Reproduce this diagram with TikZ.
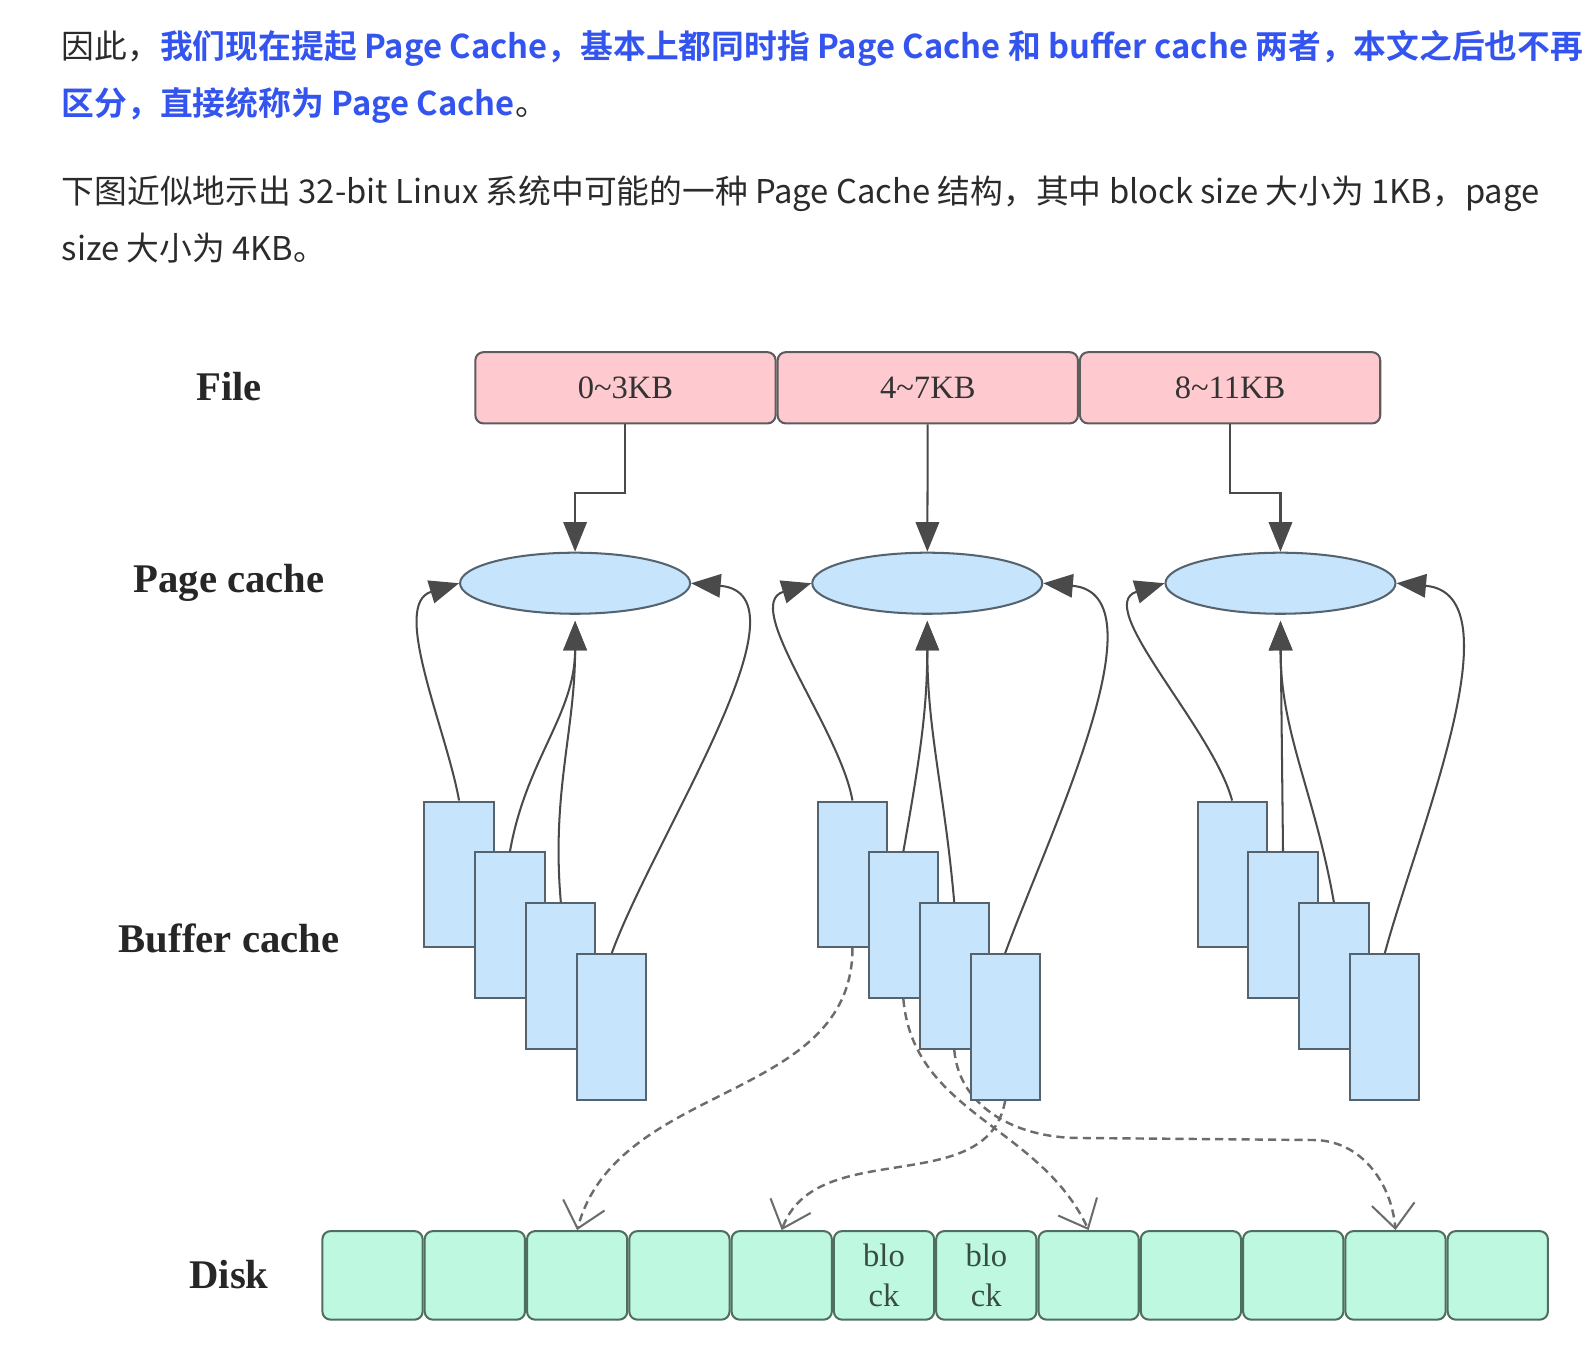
\documentclass[tikz,border=0pt]{standalone}
\usepackage{fontspec}
\usepackage{xcolor}
\usetikzlibrary{positioning,arrows.meta,shapes.geometric,backgrounds}
\newfontfamily\cjk{Noto Sans CJK SC}[BoldFont={Noto Sans CJK SC Bold}]
\newfontfamily\tnr{Liberation Serif}
\definecolor{linkblue}{HTML}{3454F0}
\definecolor{bodytext}{HTML}{2B2B2B}
\definecolor{filepink}{HTML}{FFCACF}
\definecolor{cacheblue}{HTML}{C6E4FC}
\definecolor{cacheline}{HTML}{55636F}
\definecolor{diskgreen}{HTML}{BEF8E1}
\definecolor{diskline}{HTML}{4F6E61}
\definecolor{edgegray}{HTML}{4A4A4A}
\tikzstyle{para}=[
        inner sep = 0pt,
        text = bodytext,
        font = \cjk\fontsize{16.1}{18}\selectfont
    ]
\tikzstyle{layer label}=[
        text = black!85,
        font = \tnr\bfseries\fontsize{20}{22}\selectfont
    ]
\tikzstyle{file state}=[
        draw = edgegray!90,
        line width = 1pt,
        fill = filepink,
        rounded corners = 4pt,
        minimum width = 147.5pt,
        minimum height = 35pt,
        text = black!80,
        font = \tnr\fontsize{16}{18}\selectfont
    ]
\tikzstyle{page state}=[
        ellipse,
        draw = cacheline,
        line width = 1pt,
        fill = cacheblue,
        inner sep = 0pt,
        minimum width = 113pt,
        minimum height = 30pt
    ]
\tikzstyle{buffer state}=[
        draw = cacheline,
        line width = 1pt,
        fill = cacheblue,
        minimum width = 34pt,
        minimum height = 71.5pt
    ]
\tikzstyle{disk state}=[
        draw = diskline,
        line width = 1pt,
        fill = diskgreen,
        rounded corners = 4pt,
        minimum width = 49.25pt,
        minimum height = 43.5pt,
        align = center,
        text = diskline!70!black,
        font = \tnr\fontsize{16}{20}\selectfont
    ]

\begin{document}
\begin{tikzpicture}[x=0.5pt, y=-0.5pt, thick,
        link/.style = {draw = edgegray, line width = 1pt, -{Triangle[length=14.5pt, width=11.5pt]}},
        flush/.style = {draw = gray!85!black, line width = 1.2pt, dash pattern = on 4pt off 2.5pt,
            -{Straight Barb[length=12pt, width=21pt, line width=1pt]}}]
        \useasboundingbox (0,0) rectangle (1568,1336);

        % text above the figure
        \node[para, anchor = base west] (t1) at (60,57) {因此，{\color{linkblue}\bfseries 我们现在提起 Page Cache，基本上都同时指 Page Cache 和 buffer cache 两者，本文之后也不再}};
        \node[para, anchor = base west] (t2) at (60,113) {{\color{linkblue}\bfseries 区分，直接统称为 Page Cache}。};
        \node[para, anchor = base west] (t3) at (60,200) {下图近似地示出 32-bit Linux 系统中可能的一种 Page Cache 结构，其中 block size 大小为 1KB，page};
        \node[para, anchor = base west] (t4) at (60,256) {size 大小为 4KB。};

        \node[layer label] (lfile) at (225,380) {File};
        \node[layer label] (lpage) at (225,573) {Page cache};
        \node[layer label] (lbuf) at (225,922) {Buffer cache};
        \node[layer label] (ldisk) at (225,1252) {Disk};

        \node[file state] (f1) at (614.5,381) {0\textasciitilde 3KB};
        \node[file state] (f2) [right = 0pt of f1] {4\textasciitilde 7KB};
        \node[file state] (f3) [right = 0pt of f2] {8\textasciitilde 11KB};

        \node[page state] (p1) at (565,573) {};
        \node[page state] (p2) at (911,573) {};
        \node[page state] (p3) at (1258,573) {};

        \node[buffer state] (b11) at (451,859) {};
        \node[buffer state] (b12) at ([shift={(50,50)}]b11) {};
        \node[buffer state] (b13) at ([shift={(50,50)}]b12) {};
        \node[buffer state] (b14) at ([shift={(50,50)}]b13) {};
        \node[buffer state] (b21) at (837.5,859) {};
        \node[buffer state] (b22) at ([shift={(50,50)}]b21) {};
        \node[buffer state] (b23) at ([shift={(50,50)}]b22) {};
        \node[buffer state] (b24) at ([shift={(50,50)}]b23) {};
        \node[buffer state] (b31) at (1210.5,859) {};
        \node[buffer state] (b32) at ([shift={(50,50)}]b31) {};
        \node[buffer state] (b33) at ([shift={(50,50)}]b32) {};
        \node[buffer state] (b34) at ([shift={(50,50)}]b33) {};

        \node[disk state] (d1) at (366,1253) {};
        \node[disk state] (d2) [right = 0pt of d1] {};
        \node[disk state] (d3) [right = 0pt of d2] {};
        \node[disk state] (d4) [right = 0pt of d3] {};
        \node[disk state] (d5) [right = 0pt of d4] {};
        \node[disk state] (d6) [right = 0pt of d5] {blo\\ck};
        \node[disk state] (d7) [right = 0pt of d6] {blo\\ck};
        \node[disk state] (d8) [right = 0pt of d7] {};
        \node[disk state] (d9) [right = 0pt of d8] {};
        \node[disk state] (d10) [right = 0pt of d9] {};
        \node[disk state] (d11) [right = 0pt of d10] {};
        \node[disk state] (d12) [right = 0pt of d11] {};

        \draw[link] (f1.south) -- ++(0,67) -| (p1.north);
        \draw[link] (f2) -- (p2);
        \draw[link] (f3.south) -- ++(0,67) -| (p3.north);

        \draw[link] (b11.north) to[out=100, in=197, looseness=0.85] (p1.west);
        \draw[link] (b12.north) to[out=80, in=-90] ([yshift=-3pt]p1.south);
        \draw[link] (b13.north) to[out=95, in=-90] ([yshift=-3pt]p1.south);
        \draw[link] (b14.north) to[out=70, in=-5, looseness=0.85] (p1.east);
        \draw[link] (b21.north) to[out=100, in=197, looseness=0.85] (p2.west);
        \draw[link] (b22.north) to[out=80, in=-90] ([yshift=-3pt]p2.south);
        \draw[link] (b23.north) to[out=95, in=-90] ([yshift=-3pt]p2.south);
        \draw[link] (b24.north) to[out=70, in=-5, looseness=0.85] (p2.east);
        \draw[link] (b31.north) to[out=105, in=197, looseness=0.85] (p3.west);
        \draw[link] (b32.north) -- ([yshift=-3pt]p3.south);
        \draw[link] (b33.north) to[out=100, in=-90] ([yshift=-3pt]p3.south);
        \draw[link] (b34.north) to[out=75, in=-5, looseness=0.85] (p3.east);

        % dashed write-back to disk
        \coordinate (w1) at (1060,1118);
        \coordinate (w2) at (1290,1120);
        \begin{pgfonlayer}{background}
        \draw[flush] (b21.south) to[out=-90, in=75] (d3.north);
        \draw[flush] (b22.south) to[out=-85, in=115] (d8.north);
        \draw[flush] (b23.south) to[out=-85, in=180] (w1) -- (w2) to[out=0, in=95] (d11.north);
        \draw[flush] (b24.south) to[out=-100, in=70] (d5.north);
        \end{pgfonlayer}
    \end{tikzpicture}
\end{document}
